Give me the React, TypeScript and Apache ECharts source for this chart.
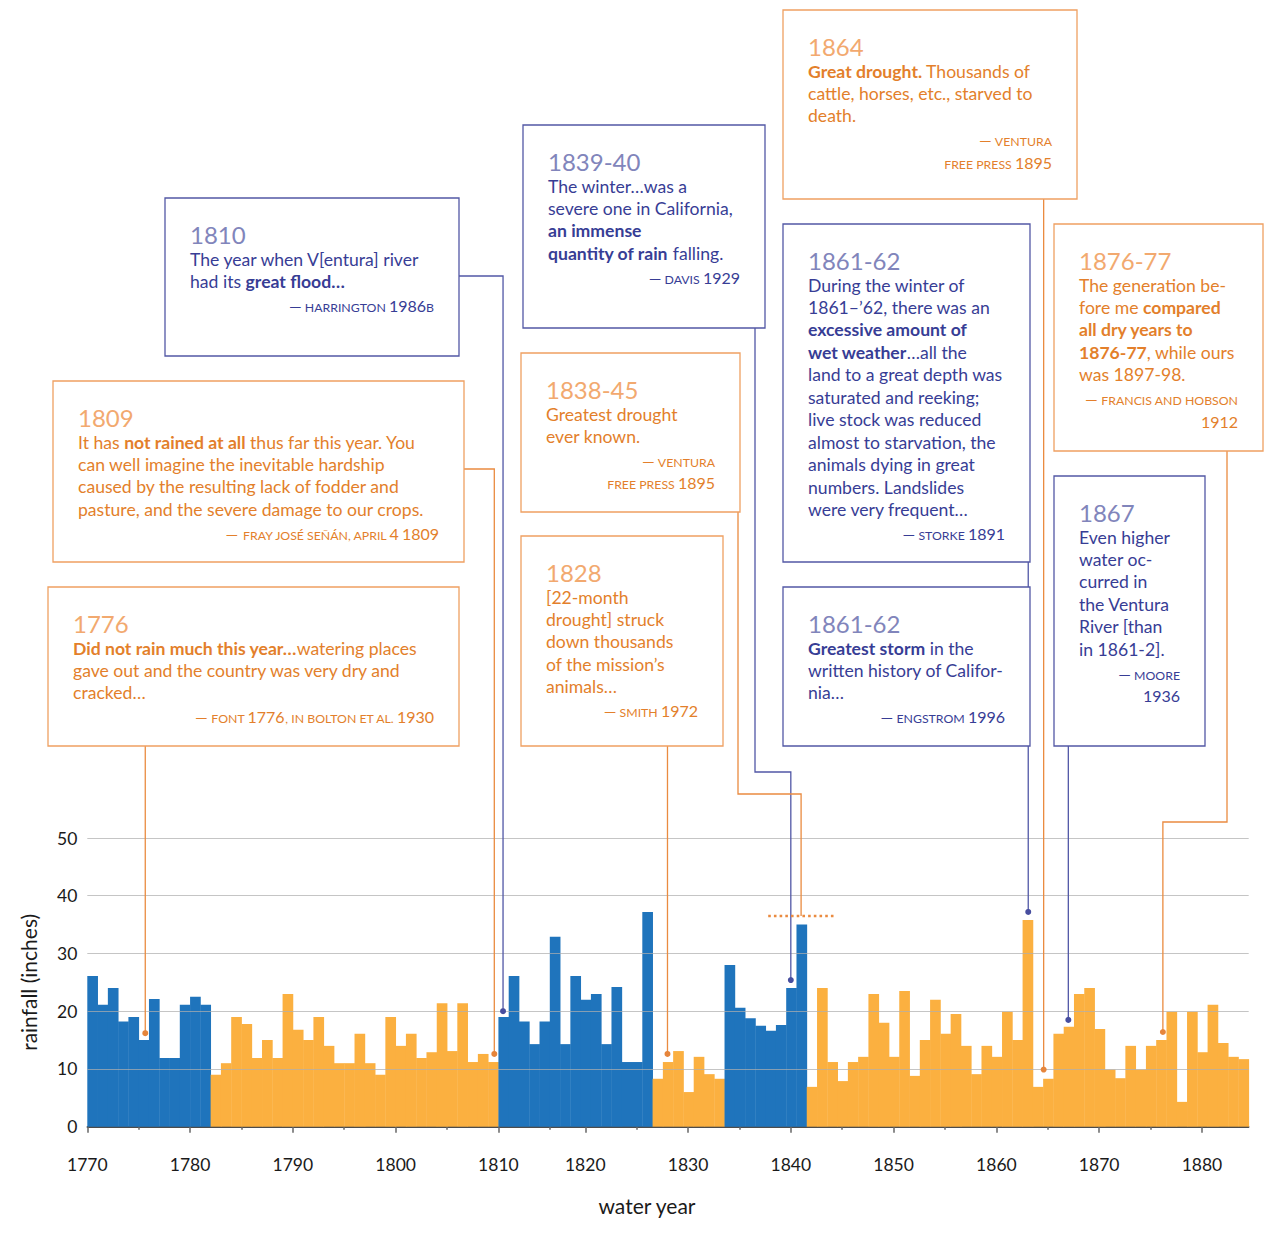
import React, { useEffect, useRef } from "react";
import * as echarts from "echarts";

// ---------------- DATA ----------------
const FIRST_YEAR = 1770;

// annual rainfall (inches), one bar per water year, in order
const rainfall: number[] = [
  26.1, 21.1, 24.0, 18.2, 19.0, 15.0, 22.1, 11.9, 11.9, 21.1, 22.5, 21.1,
  9.0, 11.0, 19.0, 17.8, 11.9, 15.0, 11.9, 23.0, 16.8, 15.0, 19.0, 14.0, 11.0, 11.0, 16.1, 11.0,
  9.0, 19.0, 14.0, 16.1, 11.9, 12.9, 21.4, 13.1, 21.4, 11.2, 12.6, 11.2,
  19.0, 26.1, 18.2, 14.3, 18.2, 32.9, 14.3, 26.1, 22.0, 23.0, 14.3, 24.2, 11.2, 11.2, 37.2,
  8.3, 11.2, 13.1, 6.0, 12.1, 9.1, 8.3,
  28.0, 20.6, 18.8, 17.5, 16.6, 17.6, 24.0, 35.0,
  6.9, 24.0, 11.2, 7.9, 11.2, 12.1, 23.0, 18.0, 12.1, 23.5, 8.8, 15.0, 22.0, 16.1, 19.5, 14.0,
  9.1, 14.0, 12.1, 19.9, 15.0, 35.8, 6.9, 8.3, 16.1, 17.3, 23.0, 24.0, 16.9, 9.9, 8.4, 14.0,
  9.9, 14.0, 15.0, 19.9, 4.3, 19.9, 12.9, 21.1, 14.5, 12.1, 11.7,
];

// wet / dry periods, as run lengths of consecutive bars
const periodKinds = ["wet", "dry", "wet", "dry", "wet", "dry"];
const periodLengths = [12, 28, 15, 7, 8, 43];

const majorTickYears = [1770, 1780, 1790, 1800, 1810, 1820, 1830, 1840, 1850, 1860, 1870, 1880];
const minorTickYears = [1775, 1785, 1795, 1805, 1815, 1825, 1835, 1845, 1855, 1865, 1875];
const yTickValues = [0, 10, 20, 30, 40, 50];

// the original time axis is compressed between 1815 and 1820
const BREAK_START = 1815;
const BREAK_END = 1820;
const SLOTS_LOST = 1.55;

type Note = {
  title: string;
  kind: "wet" | "dry";
  lines: string[];
  cite: string[];
  anchorYear: number;
  anchorValue: number;
  dot: boolean;
  range?: number[];
};

const notes: Note[] = [
  {
    title: "1776", kind: "dry",
    lines: ["*Did not rain much this year…*watering places", "gave out and the country was very dry and", "cracked…"],
    cite: ["— Font 1776, in Bolton et al. 1930"], anchorYear: 1775.64, anchorValue: 16.2, dot: true,
  },
  {
    title: "1809", kind: "dry",
    lines: ["It has *not rained at all* thus far this year. You", "can well imagine the inevitable hardship", "caused by the resulting lack of fodder and", "pasture, and the severe damage to our crops."],
    cite: ["— Fray José Señán, April 4 1809"], anchorYear: 1809.6, anchorValue: 12.6, dot: true,
  },
  {
    title: "1810", kind: "wet",
    lines: ["The year when V[entura] river", "had its *great flood…*"],
    cite: ["— Harrington 1986b"], anchorYear: 1810.45, anchorValue: 20.0, dot: true,
  },
  {
    title: "1839-40", kind: "wet",
    lines: ["The winter…was a", "severe one in California,", "*an immense*", "*quantity of rain* falling."],
    cite: ["— Davis 1929"], anchorYear: 1840.0, anchorValue: 25.4, dot: true,
  },
  {
    title: "1838-45", kind: "dry",
    lines: ["Greatest drought", "ever known."],
    cite: ["— Ventura", "Free Press 1895"], anchorYear: 1841.0, anchorValue: 36.5, dot: false, range: [1837.8, 1844.4],
  },
  {
    title: "1828", kind: "dry",
    lines: ["[22-month", "drought] struck", "down thousands", "of the mission’s", "animals…"],
    cite: ["— Smith 1972"], anchorYear: 1828.0, anchorValue: 12.6, dot: true,
  },
  {
    title: "1864", kind: "dry",
    lines: ["*Great drought.* Thousands of", "cattle, horses, etc., starved to", "death."],
    cite: ["— Ventura", "Free Press 1895"], anchorYear: 1864.6, anchorValue: 9.9, dot: true,
  },
  {
    title: "1861-62", kind: "wet",
    lines: ["During the winter of", "1861–’62, there was an", "*excessive amount of*", "*wet weather*…all the", "land to a great depth was", "saturated and reeking;", "live stock was reduced", "almost to starvation, the", "animals dying in great", "numbers. Landslides", "were very frequent…"],
    cite: ["— Storke 1891"], anchorYear: 1863.1, anchorValue: 37.2, dot: false,
  },
  {
    title: "1861-62", kind: "wet",
    lines: ["*Greatest storm* in the", "written history of Califor-", "nia…"],
    cite: ["— Engstrom 1996"], anchorYear: 1863.1, anchorValue: 37.2, dot: true,
  },
  {
    title: "1876-77", kind: "dry",
    lines: ["The generation be-", "fore me *compared*", "*all dry years to*", "*1876-77*, while ours", "was 1897-98."],
    cite: ["— Francis and Hobson", "1912"], anchorYear: 1876.2, anchorValue: 16.4, dot: true,
  },
  {
    title: "1867", kind: "wet",
    lines: ["Even higher", "water oc-", "curred in", "the Ventura", "River [than", "in 1861-2]."],
    cite: ["— Moore", "1936"], anchorYear: 1867.0, anchorValue: 18.5, dot: true,
  },
];

// ---------------- LAYOUT ----------------
const noteBoxes = [
  [48, 587, 411, 159],
  [53, 381, 411, 181],
  [165, 198, 294, 158],
  [523, 125, 242, 203],
  [521, 353, 219, 159],
  [521, 536, 202, 210],
  [783, 10, 294, 189],
  [783, 224, 247, 338],
  [783, 587, 247, 159],
  [1054, 224, 209, 227],
  [1054, 476, 151, 270],
];
const noteLeaders: any[] = [
  { type: "down" },
  { type: "side", y: 469 },
  { type: "side", y: 276 },
  { type: "elbow", x: 755, y: 772 },
  { type: "elbow", x: 738, y: 794 },
  { type: "down" },
  { type: "down" },
  { type: "link", toY: 587 },
  { type: "down" },
  { type: "elbow", x: 1227, y: 822 },
  { type: "down" },
];

const FONT = 'Lato, "Noto Sans", sans-serif';
const BODY_SIZE = 17.6;
const WET_BAR = "#1F74BC";
const DRY_BAR = "#FBB040";
const PAL: Record<string, any> = {
  wet: { text: "#373D95", title: "#8185BB", border: "#5358A5", leader: "#5157A6", dot: "#474E9F" },
  dry: { text: "#E37F2B", title: "#F2A96F", border: "#EFA062", leader: "#EA8B40", dot: "#E6853B" },
};

function yearToSlot(y: number): number {
  if (y <= BREAK_START) return y - FIRST_YEAR;
  if (y >= BREAK_END) return y - FIRST_YEAR - SLOTS_LOST;
  const a = BREAK_START - FIRST_YEAR;
  const b = BREAK_END - FIRST_YEAR - SLOTS_LOST;
  return a + ((y - BREAK_START) / (BREAK_END - BREAK_START)) * (b - a);
}

function barKinds(): string[] {
  const out: string[] = [];
  periodLengths.forEach((n, i) => {
    for (let k = 0; k < n; k++) out.push(periodKinds[i]);
  });
  return out;
}

function toRich(line: string): string {
  return line
    .split("*")
    .map((seg, i) => (seg.length ? `{${i % 2 ? "b" : "n"}|${seg}}` : ""))
    .join("");
}

function citeRich(c: string): string {
  return c
    .split(/(\d+|—)/)
    .map((seg) => {
      if (!seg.length) return "";
      if (seg === "—") return `{dash|—}`;
      if (/^\d+$/.test(seg)) return `{num|${seg}}`;
      return `{sc|${seg.toUpperCase()}}`;
    })
    .join("");
}

export default function App() {
  const ref = useRef<HTMLDivElement>(null);

  useEffect(() => {
    if (!ref.current) return;
    const chart = echarts.init(ref.current, null, { renderer: "svg" });
    const kinds = barKinds();
    const nSlots = rainfall.length;
    const slotLabel = new Map(majorTickYears.map((y) => [yearToSlot(y).toFixed(3), String(y)]));

    chart.setOption({
      animation: false,
      grid: { left: 87.3, right: 36.3, top: 838, bottom: 111.3, containLabel: false },
      xAxis: [
        {
          type: "value",
          min: 0,
          max: nSlots,
          position: "bottom",
          axisLine: { show: true, onZero: false, lineStyle: { color: "#111", width: 1.5 } },
          axisTick: {
            show: true,
            length: 6,
            customValues: majorTickYears.map(yearToSlot),
            lineStyle: { color: "#666", width: 1.5 },
          },
          axisLabel: {
            show: true,
            customValues: majorTickYears.map(yearToSlot),
            formatter: (v: number) => slotLabel.get(Number(v).toFixed(3)) ?? "",
            margin: 29,
            fontSize: 17.5,
            fontFamily: FONT,
            color: "#1a1a1a",
          },
          splitLine: { show: false },
        },
        {
          type: "value",
          min: 0,
          max: nSlots,
          position: "bottom",
          axisLine: { show: false, onZero: false },
          axisTick: {
            show: true,
            length: 3,
            customValues: minorTickYears.map(yearToSlot),
            lineStyle: { color: "#666", width: 1.5 },
          },
          axisLabel: { show: false },
          splitLine: { show: false },
        },
      ],
      yAxis: {
        type: "value",
        min: 0,
        max: 50,
        interval: 10,
        axisLine: { show: false },
        axisTick: { show: false },
        splitLine: { show: false },
        axisLabel: { margin: 10, fontSize: 17.5, fontFamily: FONT, color: "#1a1a1a" },
        name: "rainfall (inches)",
        nameLocation: "middle",
        nameGap: 48,
        nameTextStyle: { fontSize: 21, fontFamily: FONT, color: "#1a1a1a" },
      },
      series: [
        {
          type: "custom",
          xAxisIndex: 0,
          yAxisIndex: 0,
          data: rainfall.map((v, i) => [i, v]),
          encode: { x: 0, y: 1 },
          renderItem: (_p: any, api: any) => {
            const i = api.value(0);
            const v = api.value(1);
            const p0 = api.coord([i, v]);
            const p1 = api.coord([i + 1, 0]);
            return {
              type: "rect",
              shape: { x: p0[0], y: p0[1], width: p1[0] - p0[0] + 0.4, height: p1[1] - p0[1] },
              style: { fill: kinds[i] === "wet" ? WET_BAR : DRY_BAR },
            };
          },
          markLine: {
            silent: true,
            symbol: ["none", "none"],
            label: { show: false },
            lineStyle: { color: "rgba(175,175,175,0.72)", width: 1.2, type: "solid" },
            data: yTickValues.filter((v) => v > 0).map((v) => ({ yAxis: v })),
          },
        },
      ],
    });

    const px = (year: number, value: number): number[] =>
      chart.convertToPixel({ seriesIndex: 0 }, [yearToSlot(year), value]) as number[];

    const els: any[] = [];
    notes.forEach((note, i) => {
      const [bx, by, bw, bh] = noteBoxes[i];
      const pal = PAL[note.kind];
      const lead = noteLeaders[i];
      const [ax, ay] = px(note.anchorYear, note.anchorValue);
      let pts: number[][] = [];
      if (lead.type === "down") pts = [[ax, by + bh], [ax, ay]];
      else if (lead.type === "side") pts = [[bx + bw, lead.y], [ax, lead.y], [ax, ay]];
      else if (lead.type === "elbow") pts = [[lead.x, by + bh], [lead.x, lead.y], [ax, lead.y], [ax, ay]];
      else if (lead.type === "link") pts = [[ax, by + bh], [ax, lead.toY]];
      els.push({
        type: "polyline",
        z: 100,
        silent: true,
        shape: { points: pts },
        style: { stroke: pal.leader, lineWidth: 1.3, fill: "none" },
      });
      if (note.range) {
        const [x0, yy] = px(note.range[0], note.anchorValue);
        const [x1] = px(note.range[1], note.anchorValue);
        els.push({
          type: "line",
          z: 100,
          silent: true,
          shape: { x1: x0, y1: yy, x2: x1, y2: yy },
          style: { stroke: pal.leader, lineWidth: 2.6, lineDash: [2.6, 3.1] },
        });
      }
      if (note.dot) {
        els.push({
          type: "circle",
          z: 101,
          silent: true,
          shape: { cx: ax, cy: ay, r: 3 },
          style: { fill: pal.dot },
        });
      }
      els.push({
        type: "rect",
        z: 100,
        silent: true,
        shape: { x: bx, y: by, width: bw, height: bh },
        style: { fill: "#fff", stroke: pal.border, lineWidth: 1.3 },
      });
      els.push({
        type: "text",
        z: 101,
        silent: true,
        x: bx + 25,
        y: by + 36,
        style: {
          text: note.title,
          fontSize: 24,
          fontFamily: FONT,
          fill: pal.title,
          align: "left",
          verticalAlign: "middle",
        },
      });
      const lh = 22.45;
      note.lines.forEach((ln, j) => {
        els.push({
          type: "text",
          z: 101,
          silent: true,
          x: bx + 25,
          y: by + 61 + j * lh,
          style: {
            text: toRich(ln),
            fontSize: BODY_SIZE,
            fontFamily: FONT,
            fill: pal.text,
            align: "left",
            verticalAlign: "middle",
            rich: {
              n: { fontSize: BODY_SIZE, fontFamily: FONT, fill: pal.text, color: pal.text },
              b: { fontSize: BODY_SIZE, fontFamily: FONT, fontWeight: "bold", fill: pal.text, color: pal.text },
            },
          },
        });
      });
      const citeY0 = by + 61 + (note.lines.length - 1) * lh + 23.8;
      note.cite.forEach((c, k) => {
        els.push({
          type: "text",
          z: 101,
          silent: true,
          x: bx + bw - 25,
          y: citeY0 + k * 22.5,
          style: {
            text: citeRich(c),
            fontSize: 12,
            fontFamily: FONT,
            fill: pal.text,
            align: "right",
            verticalAlign: "middle",
            rich: {
              sc: { fontSize: 12.3, fontFamily: FONT, fill: pal.text, color: pal.text, verticalAlign: "bottom" },
              num: { fontSize: 16, fontFamily: FONT, fill: pal.text, color: pal.text, verticalAlign: "bottom" },
              dash: { fontSize: 16, fontFamily: FONT, fill: pal.text, color: pal.text, verticalAlign: "bottom" },
            },
          },
        });
      });
    });

    els.push({
      type: "text",
      z: 101,
      silent: true,
      x: 647,
      y: 1205,
      style: {
        text: "water year",
        fontSize: 21,
        fontFamily: FONT,
        fill: "#1a1a1a",
        align: "center",
        verticalAlign: "middle",
      },
    });

    chart.setOption({ graphic: els });

    return () => chart.dispose();
  }, []);

  return (
    <div
      ref={ref}
      style={{ position: "absolute", left: 0, top: 0, width: 1285, height: 1238, background: "#fff" }}
    />
  );
}
